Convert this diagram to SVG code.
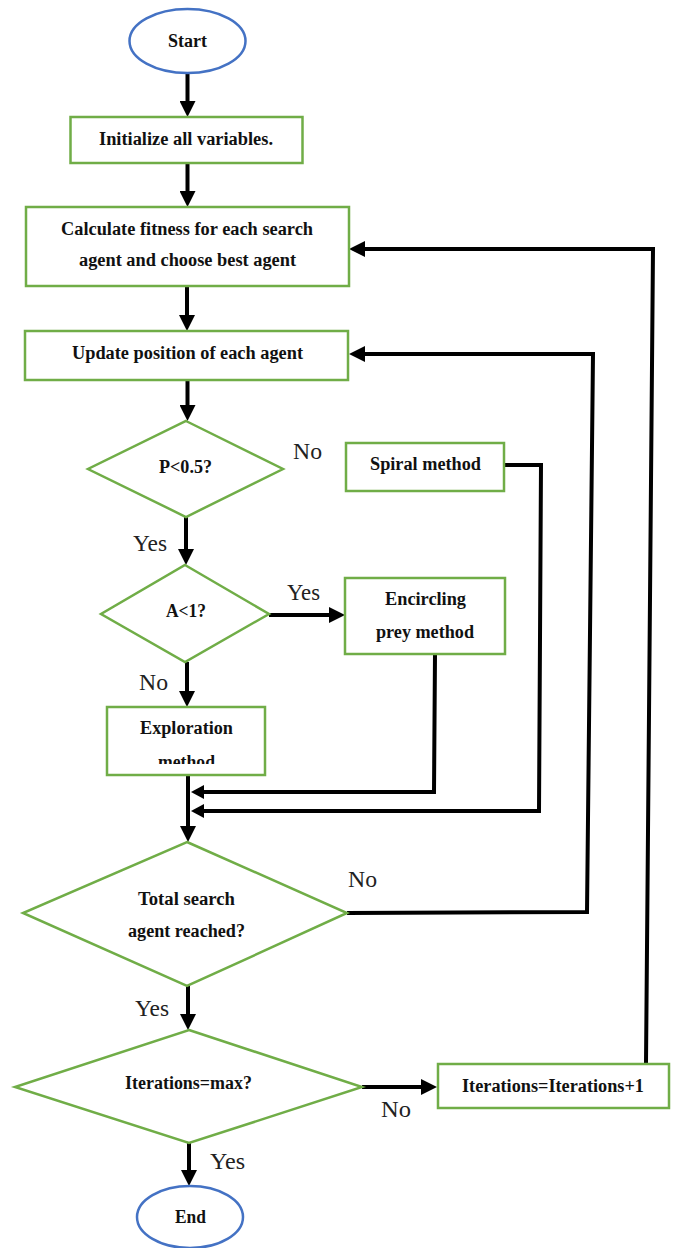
<svg xmlns="http://www.w3.org/2000/svg" width="675" height="1248" viewBox="0 0 675 1248">
  <style>
    .term { fill: #ffffff; stroke: #4472C4; stroke-width: 2.5; }
    .proc { fill: #ffffff; stroke: #70AD47; stroke-width: 2.5; }
    .t { font-family: "Liberation Serif", "Times New Roman", serif; font-weight: bold; font-size: 18.5px; fill: #111111; text-anchor: middle; }
    .lbl { font-family: "Liberation Serif", "Times New Roman", serif; font-size: 24px; fill: #222222; text-anchor: middle; }
    .wire { fill: none; stroke: #000000; stroke-width: 4; stroke-linejoin: miter; }
  </style>
  <defs>
    <marker id="arrow" markerUnits="userSpaceOnUse" markerWidth="16" markerHeight="16" viewBox="0 -8 16 16" refX="0" refY="0" orient="auto">
      <path d="M0,-8 L16,0 L0,8 z" fill="#000000"/>
    </marker>
    <marker id="arrowSmall" markerUnits="userSpaceOnUse" markerWidth="13" markerHeight="14" viewBox="0 -7 13 14" refX="0" refY="0" orient="auto">
      <path d="M0,-7 L13,0 L0,7 z" fill="#000000"/>
    </marker>
    <clipPath id="explorationClip">
      <rect x="108" y="708" width="156" height="56"/>
    </clipPath>
  </defs>

  <!-- connectors -->
  <g id="connectors">
    <path class="wire" d="M187.5,73 L187.5,101" marker-end="url(#arrow)"/>
    <path class="wire" d="M187.5,163 L187.5,191" marker-end="url(#arrow)"/>
    <path class="wire" d="M187,286 L187,315" marker-end="url(#arrow)"/>
    <path class="wire" d="M187.5,380 L187.5,405" marker-end="url(#arrow)"/>
    <path class="wire" d="M186,517 L186,549" marker-end="url(#arrow)"/>
    <path class="wire" d="M269,615 L329,615" marker-end="url(#arrow)"/>
    <path class="wire" d="M187,662 L187,691" marker-end="url(#arrow)"/>
    <path class="wire" d="M188,775 L188,826" marker-end="url(#arrow)"/>
    <path class="wire" d="M435,654 L434,792 L204,792" marker-end="url(#arrowSmall)"/>
    <path class="wire" d="M504,465 L541,465 L539,811 L204,811" marker-end="url(#arrowSmall)"/>
    <path class="wire" d="M347,913 L587,912 L593,354 L365,354" marker-end="url(#arrow)"/>
    <path class="wire" d="M188,986 L188,1014" marker-end="url(#arrow)"/>
    <path class="wire" d="M362,1087 L421,1087" marker-end="url(#arrow)"/>
    <path class="wire" d="M646,1064 L653,249 L365,249" marker-end="url(#arrow)"/>
    <path class="wire" d="M189,1143 L189,1170" marker-end="url(#arrow)"/>
  </g>

  <!-- branch labels -->
  <g id="labels">
    <text class="lbl" x="307.5" y="459" textLength="29" lengthAdjust="spacingAndGlyphs">No</text>
    <text class="lbl" x="150" y="551" textLength="34" lengthAdjust="spacingAndGlyphs">Yes</text>
    <text class="lbl" x="303.5" y="600" textLength="33" lengthAdjust="spacingAndGlyphs">Yes</text>
    <text class="lbl" x="153.5" y="690" textLength="29" lengthAdjust="spacingAndGlyphs">No</text>
    <text class="lbl" x="362.5" y="887" textLength="29" lengthAdjust="spacingAndGlyphs">No</text>
    <text class="lbl" x="152" y="1016" textLength="34" lengthAdjust="spacingAndGlyphs">Yes</text>
    <text class="lbl" x="396" y="1117" textLength="30" lengthAdjust="spacingAndGlyphs">No</text>
    <text class="lbl" x="227.5" y="1169" textLength="35" lengthAdjust="spacingAndGlyphs">Yes</text>
  </g>

  <g id="start">
    <ellipse class="term" cx="187.5" cy="41" rx="58" ry="32"/>
    <text class="t" x="187.5" y="47" textLength="39" lengthAdjust="spacingAndGlyphs">Start</text>
  </g>

  <g id="init">
    <rect class="proc" x="70.5" y="117" width="232" height="46"/>
    <text class="t" x="186" y="145" textLength="174" lengthAdjust="spacingAndGlyphs">Initialize all variables.</text>
  </g>

  <g id="fitness">
    <rect class="proc" x="26" y="207" width="323" height="79"/>
    <text class="t" x="187" y="235" textLength="252" lengthAdjust="spacingAndGlyphs">Calculate fitness for each search</text>
    <text class="t" x="187.5" y="266" textLength="217" lengthAdjust="spacingAndGlyphs">agent and choose best agent</text>
  </g>

  <g id="update">
    <rect class="proc" x="25" y="331" width="323" height="49"/>
    <text class="t" x="187.5" y="359" textLength="231" lengthAdjust="spacingAndGlyphs">Update position of each agent</text>
  </g>

  <g id="p-check">
    <polygon class="proc" points="186,421 283,469 186,517 88,469"/>
    <text class="t" x="185.5" y="473" textLength="53" lengthAdjust="spacingAndGlyphs">P&lt;0.5?</text>
  </g>

  <g id="spiral">
    <rect class="proc" x="346" y="443" width="158" height="48"/>
    <text class="t" x="425.5" y="470" textLength="111" lengthAdjust="spacingAndGlyphs">Spiral method</text>
  </g>

  <g id="a-check">
    <polygon class="proc" points="185,565 269,614 185,662 101,614"/>
    <text class="t" x="186" y="617" textLength="40" lengthAdjust="spacingAndGlyphs">A&lt;1?</text>
  </g>

  <g id="encircling">
    <rect class="proc" x="345" y="578" width="160" height="76"/>
    <text class="t" x="425.5" y="605" textLength="81" lengthAdjust="spacingAndGlyphs">Encircling</text>
    <text class="t" x="425" y="638" textLength="98" lengthAdjust="spacingAndGlyphs">prey method</text>
  </g>

  <g id="exploration">
    <rect class="proc" x="107" y="707" width="158" height="68"/>
    <text class="t" x="186.5" y="734" textLength="93" lengthAdjust="spacingAndGlyphs">Exploration</text>
    <text class="t" x="186.5" y="768" textLength="57" lengthAdjust="spacingAndGlyphs" clip-path="url(#explorationClip)">method</text>
  </g>

  <g id="total-check">
    <polygon class="proc" points="187,842 347,913 187,986 23,913"/>
    <text class="t" x="186.5" y="905" textLength="97" lengthAdjust="spacingAndGlyphs">Total search</text>
    <text class="t" x="186.5" y="937" textLength="117" lengthAdjust="spacingAndGlyphs">agent reached?</text>
  </g>

  <g id="iter-check">
    <polygon class="proc" points="189,1030 362,1087 189,1143 15,1087"/>
    <text class="t" x="188.5" y="1089" textLength="127" lengthAdjust="spacingAndGlyphs">Iterations=max?</text>
  </g>

  <g id="iter-inc">
    <rect class="proc" x="438" y="1064" width="231" height="44"/>
    <text class="t" x="553" y="1092" textLength="182" lengthAdjust="spacingAndGlyphs">Iterations=Iterations+1</text>
  </g>

  <g id="end">
    <ellipse class="term" cx="190" cy="1217" rx="53" ry="31"/>
    <text class="t" x="190.5" y="1223" textLength="31" lengthAdjust="spacingAndGlyphs">End</text>
  </g>
</svg>
